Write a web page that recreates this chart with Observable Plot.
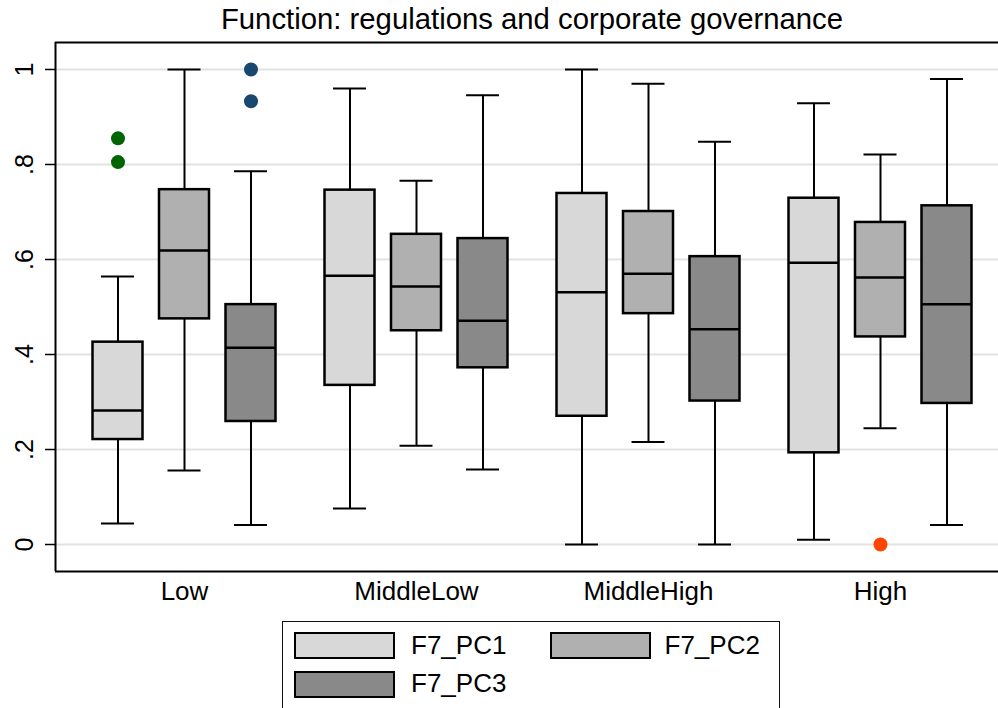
<!DOCTYPE html>
<html><head><meta charset="utf-8">
<script src="https://cdn.jsdelivr.net/npm/d3@7"></script>
<script src="https://cdn.jsdelivr.net/npm/@observablehq/plot@0.6"></script>
<style>
html,body{margin:0;padding:0;background:#fff;overflow:hidden;width:998px;height:708px;}
body{position:relative;font-family:"Liberation Sans",Arial,Helvetica,sans-serif;color:#000;}
#title{position:absolute;left:55px;width:954px;top:4px;text-align:center;font-size:29.3px;line-height:30px;white-space:nowrap;}
#chart{position:absolute;left:0;top:0;}
#legend{position:absolute;left:282px;top:621px;width:496px;height:120px;border:1.5px solid #111;}
.sw{position:absolute;width:101px;height:27px;box-sizing:border-box;border:2px solid #000;}
.lb{position:absolute;font-size:26px;line-height:26px;white-space:nowrap;}
</style></head><body>
<div id="chart"></div>
<div id="title">Function: regulations and corporate governance</div>
<div id="legend"></div>
<script>
// ---- data ----
const groups = ["Low", "MiddleLow", "MiddleHigh", "High"];
const series = ["F7_PC1", "F7_PC2", "F7_PC3"];

// per series, values by group (Low, MiddleLow, MiddleHigh, High)
const pc1Min = [0.044, 0.076, 0.000, 0.010];
const pc1Q1  = [0.221, 0.335, 0.270, 0.193];
const pc1Med = [0.282, 0.566, 0.531, 0.593];
const pc1Q3  = [0.426, 0.746, 0.739, 0.729];
const pc1Max = [0.564, 0.960, 1.000, 0.929];

const pc2Min = [0.156, 0.208, 0.216, 0.245];
const pc2Q1  = [0.475, 0.450, 0.486, 0.437];
const pc2Med = [0.619, 0.543, 0.570, 0.562];
const pc2Q3  = [0.747, 0.653, 0.701, 0.678];
const pc2Max = [1.000, 0.766, 0.970, 0.821];

const pc3Min = [0.041, 0.158, 0.000, 0.041];
const pc3Q1  = [0.259, 0.372, 0.302, 0.297];
const pc3Med = [0.414, 0.471, 0.453, 0.506];
const pc3Q3  = [0.505, 0.644, 0.606, 0.713];
const pc3Max = [0.786, 0.946, 0.848, 0.980];

const outlierGroup  = ["Low", "Low", "Low", "Low", "High"];
const outlierSeries = ["F7_PC1", "F7_PC1", "F7_PC3", "F7_PC3", "F7_PC2"];
const outlierValue  = [0.855, 0.805, 1.000, 0.933, 0.000];

const yTicks = [0, 0.2, 0.4, 0.6, 0.8, 1];

// ---- styles ----
const boxFill = ["#d8d8d8", "#b0b0b0", "#898989"];
const outlierFill = {"F7_PC1": "#006400", "F7_PC2": "#ff4500", "F7_PC3": "#1a476f"};

// ---- layout helpers ----
const step = 66.5 / 232;      // offset between boxes inside a group (group units)
const halfBox = 25 / 232;     // half box width
const halfCap = 16.5 / 232;   // half whisker cap width
const xDomain = [-129 / 232, (998 - 184) / 232];
const yDomain = [-0.0568, 1.0568];

const stats = [
  [pc1Min, pc1Q1, pc1Med, pc1Q3, pc1Max],
  [pc2Min, pc2Q1, pc2Med, pc2Q3, pc2Max],
  [pc3Min, pc3Q1, pc3Med, pc3Q3, pc3Max]
];
const rows = groups.flatMap((g, gi) => series.map((s, si) => ({
  group: g, series: s, pos: gi + (si - 1) * step,
  min: stats[si][0][gi], q1: stats[si][1][gi], med: stats[si][2][gi],
  q3: stats[si][3][gi], max: stats[si][4][gi]
})));
const outliers = outlierValue.map((v, i) => ({
  series: outlierSeries[i],
  pos: groups.indexOf(outlierGroup[i]) + (series.indexOf(outlierSeries[i]) - 1) * step,
  value: v
}));

const fmtY = d => d === 0 ? "0" : d === 1 ? "1" : d3.format(".1f")(d).replace(/^0/, "");

const chart = Plot.plot({
  width: 998,
  height: 620,
  marginLeft: 55,
  marginRight: 0,
  marginTop: 42,
  marginBottom: 49,
  style: {fontFamily: '"Liberation Sans", Arial, Helvetica, sans-serif', color: "#000", background: "transparent", overflow: "visible"},
  x: {domain: xDomain, axis: null},
  y: {domain: yDomain, axis: null},
  color: {domain: series, range: boxFill},
  marks: [
    Plot.gridY(yTicks, {stroke: "#e2e2e2", strokeOpacity: 1, strokeWidth: 2}),
    Plot.axisY({ticks: yTicks, tickFormat: fmtY, tickSize: 10, tickRotate: -90, tickPadding: 13, fontSize: 25, label: null, strokeWidth: 1.5}),
    Plot.axisX({ticks: [0, 1, 2, 3], tickFormat: i => groups[i], tickSize: 0, tickPadding: 10.5, fontSize: 26, label: null}),
    // whiskers
    Plot.ruleX(rows, {x: "pos", y1: "min", y2: "q1", stroke: "#000", strokeWidth: 2}),
    Plot.ruleX(rows, {x: "pos", y1: "q3", y2: "max", stroke: "#000", strokeWidth: 2}),
    // caps
    Plot.ruleY(rows, {y: "min", x1: d => d.pos - halfCap, x2: d => d.pos + halfCap, stroke: "#000", strokeWidth: 2}),
    Plot.ruleY(rows, {y: "max", x1: d => d.pos - halfCap, x2: d => d.pos + halfCap, stroke: "#000", strokeWidth: 2}),
    // boxes
    Plot.rect(rows, {x1: d => d.pos - halfBox, x2: d => d.pos + halfBox, y1: "q1", y2: "q3", fill: "series", stroke: "#000", strokeWidth: 2.5}),
    // medians
    Plot.ruleY(rows, {y: "med", x1: d => d.pos - halfBox, x2: d => d.pos + halfBox, stroke: "#000", strokeWidth: 2.5}),
    // outliers
    Plot.dot(outliers, {x: "pos", y: "value", r: 7, fill: d => outlierFill[d.series], stroke: null}),
    // plot region border (right edge lies outside the picture)
    Plot.ruleY([yDomain[0], yDomain[1]], {stroke: "#000", strokeWidth: 2}),
    Plot.ruleX([xDomain[0]], {stroke: "#000", strokeWidth: 2})
  ]
});
document.getElementById("chart").appendChild(chart);

// legend
const legend = document.getElementById("legend");
const swPos = [[11, 10], [266.5, 10], [11, 48.5]];
const lbPos = [[128, 9.5], [381.5, 9.5], [128, 48]];
series.forEach((s, i) => {
  const sw = document.createElement("div");
  sw.className = "sw";
  sw.style.left = swPos[i][0] + "px";
  sw.style.top = swPos[i][1] + "px";
  sw.style.background = boxFill[i];
  legend.appendChild(sw);
  const lb = document.createElement("div");
  lb.className = "lb";
  lb.style.left = lbPos[i][0] + "px";
  lb.style.top = lbPos[i][1] + "px";
  lb.textContent = s;
  legend.appendChild(lb);
});
</script>
</body></html>
